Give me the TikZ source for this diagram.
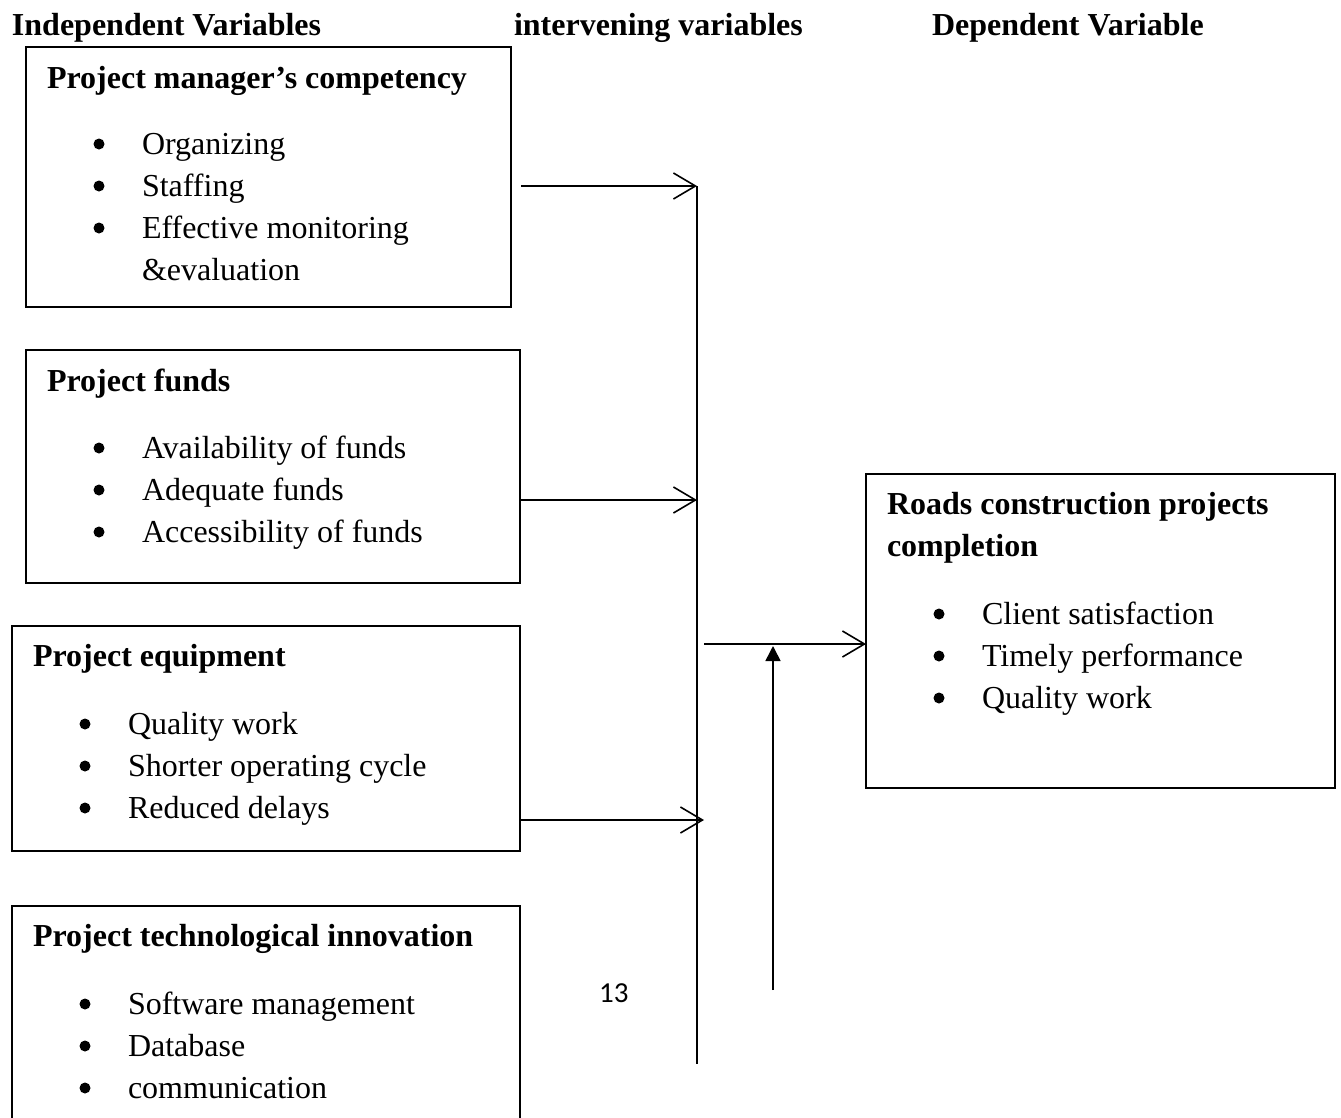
\documentclass[tikz,border=0pt]{standalone}
\usepackage{fontspec}
\setmainfont{Liberation Serif}
\newfontfamily\pagenumfont{Carlito}
\usetikzlibrary{arrows.meta}
\tikzset{
  txt/.style={inner sep=0pt, outer sep=0pt, font=\fontsize{32}{42}\selectfont, anchor=base west},
  hdr/.style={txt, font=\fontsize{32}{42}\selectfont\bfseries},
  dot/.style={circle, fill, inner sep=0pt, outer sep=0pt, minimum size=11pt},
  box/.style={draw, line width=1.3pt, inner sep=0pt, outer sep=0pt, anchor=north west},
  conn/.style={line width=1.6pt},
  openarrow/.style={conn, -{Straight Barb[length=22pt,width=26pt,line width=1.6pt]}},
  filledarrow/.style={conn, -{Triangle[length=15pt,width=15pt]}}
}
\begin{document}
\begin{tikzpicture}[x=1pt,y=-1pt]
\useasboundingbox (0,0) rectangle (1341,1117);
% headers
\node[hdr] (h1) at (12,35) {Independent Variables};
\node[hdr] (h2) at (514,35) {intervening variables};
\node[hdr] (h3) at (932,35) {Dependent Variable};
% boxes
\node[box, minimum width=485pt, minimum height=260pt] (pm) at (26,47) {};
\node[box, minimum width=494pt, minimum height=233pt] (pf) at (26,350) {};
\node[box, minimum width=508pt, minimum height=225pt] (pe) at (12,626) {};
\node[box, minimum width=508pt, minimum height=220pt] (pt) at (12,906) {};
\node[box, minimum width=469pt, minimum height=314pt] (rc) at (866,474) {};
% box 1
\node[hdr] (t1) at (47,88) {Project manager’s competency};
\node[dot] (d11) at (99,144) {};
\node[txt] (i11) at (142,154) {Organizing};
\node[dot] (d12) at (99,186) {};
\node[txt] (i12) at (142,196) {Staffing};
\node[dot] (d13) at (99,228) {};
\node[txt] (i13) at (142,238) {Effective monitoring};
\node[txt] (i14) at (142,280) {\&evaluation};
% box 2
\node[hdr] (t2) at (47,391) {Project funds};
\node[dot] (d21) at (99,448) {};
\node[txt] (i21) at (142,458) {Availability of funds};
\node[dot] (d22) at (99,490) {};
\node[txt] (i22) at (142,500) {Adequate funds};
\node[dot] (d23) at (99,532) {};
\node[txt] (i23) at (142,542) {Accessibility of funds};
% box 3
\node[hdr] (t3) at (33,666) {Project equipment};
\node[dot] (d31) at (85,724) {};
\node[txt] (i31) at (128,734) {Quality work};
\node[dot] (d32) at (85,766) {};
\node[txt] (i32) at (128,776) {Shorter operating cycle};
\node[dot] (d33) at (85,808) {};
\node[txt] (i33) at (128,818) {Reduced delays};
% box 4
\node[hdr] (t4) at (33,946) {Project technological innovation};
\node[dot] (d41) at (85,1004) {};
\node[txt] (i41) at (128,1014) {Software management};
\node[dot] (d42) at (85,1046) {};
\node[txt] (i42) at (128,1056) {Database};
\node[dot] (d43) at (85,1088) {};
\node[txt] (i43) at (128,1098) {communication};
% box 5
\node[hdr] (t5) at (887,514) {Roads construction projects};
\node[hdr] (t6) at (887,556) {completion};
\node[dot] (d51) at (939,614) {};
\node[txt] (i51) at (982,624) {Client satisfaction};
\node[dot] (d52) at (939,656) {};
\node[txt] (i52) at (982,666) {Timely performance};
\node[dot] (d53) at (939,698) {};
\node[txt] (i53) at (982,708) {Quality work};
% page number
\node[inner sep=0pt, anchor=base west, font=\pagenumfont\fontsize{29}{34}\selectfont] (pg) at (599,1002) {13};
% connectors
\coordinate (vtop) at (697,186);
\coordinate (vbot) at (697,1064);
\coordinate (s1) at (521,186);
\coordinate (e2) at (697,500);
\coordinate (e3) at (704,820);
\coordinate (s4) at (704,644);
\coordinate (ubot) at (773,990);
\coordinate (utop) at (773,646);
\draw[conn] (vtop) -- (vbot);
\draw[openarrow] (s1) -- (vtop);
\draw[openarrow] (pf.east |- e2) -- (e2);
\draw[openarrow] (pe.east |- e3) -- (e3);
\draw[openarrow] (s4) -- (rc.west |- s4);
\draw[filledarrow] (ubot) -- (utop);
\end{tikzpicture}
\end{document}
